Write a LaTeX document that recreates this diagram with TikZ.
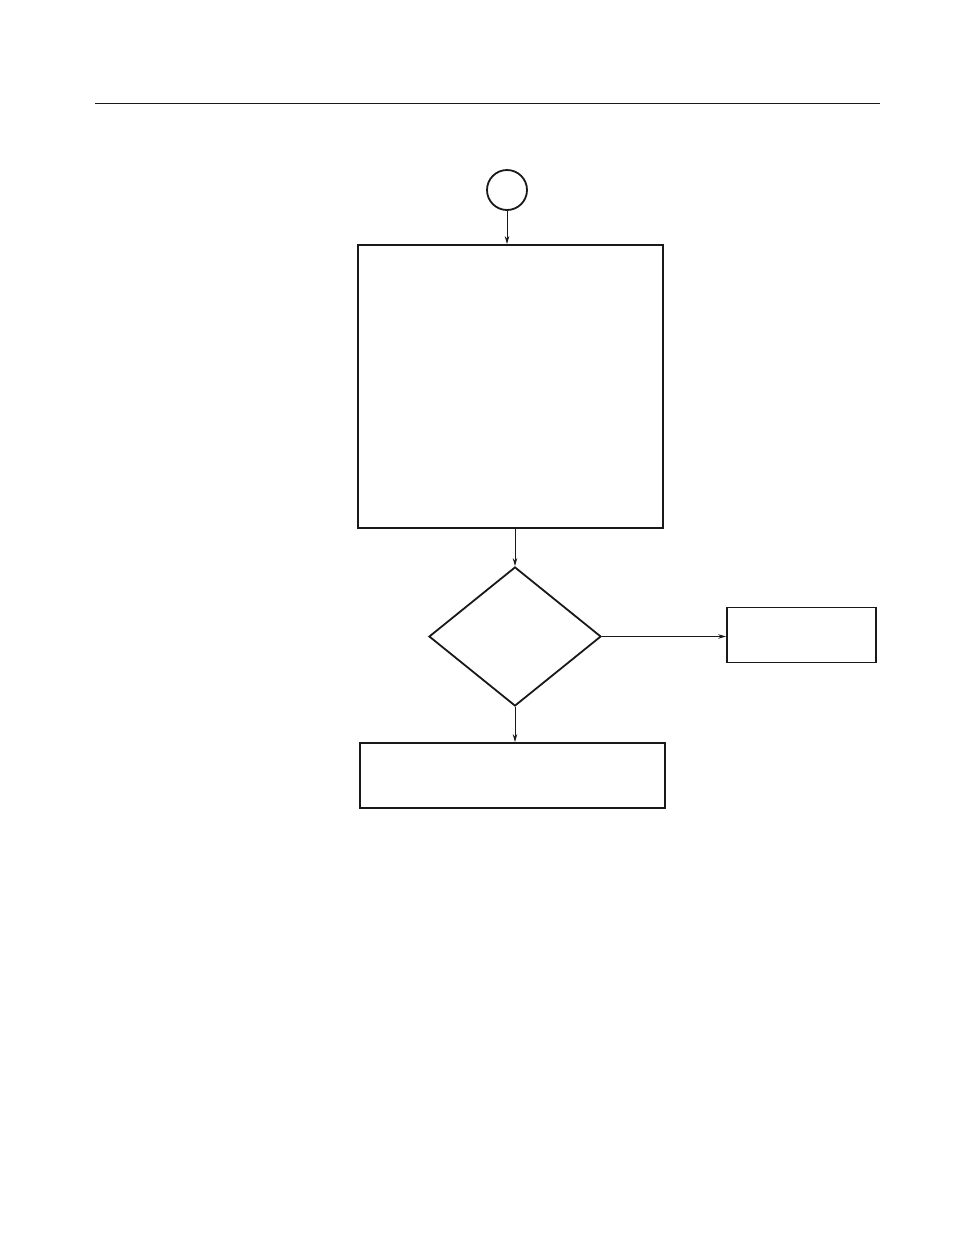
\documentclass[tikz,border=0pt]{standalone}
\usetikzlibrary{shapes.geometric,arrows.meta}
\begin{document}
\begin{tikzpicture}[x=1pt,y=-1pt,
  boxline/.style={draw=black!90,line width=1.8pt},
  procbox/.style={boxline,rectangle,inner sep=0pt},
  termcircle/.style={boxline,circle,inner sep=0pt,minimum size=40pt},
  decision/.style={boxline,diamond,inner sep=0pt},
  conn/.style={draw=black!90,line width=0.9pt,-{Stealth[length=8pt,width=4.5pt]}},
  rule/.style={draw=black!90,line width=0.9pt}]
\useasboundingbox (0,0) rectangle (954,1235);
\coordinate (ruleL) at (95,103);
\coordinate (ruleR) at (880,103);
\draw[rule] (ruleL) -- (ruleR);
\node[termcircle] (start) at (507,190) {};
\node[procbox,minimum width=305pt,minimum height=283pt] (big) at (510.5,386.5) {};
\node[decision,minimum width=172pt,minimum height=139pt] (dia) at (515,636.5) {};
\node[procbox,minimum width=149pt,minimum height=55pt] (right) at (801.5,635) {};
\node[procbox,minimum width=305pt,minimum height=65pt] (bot) at (512.5,775.5) {};
\draw[conn] (start.south) -- (start.south |- big.north);
\draw[conn] (big.south -| dia.north) -- (dia.north);
\draw[conn] (dia.east) -- (dia.east -| right.west);
\draw[conn] (dia.south) -- (dia.south |- bot.north);
\end{tikzpicture}
\end{document}
